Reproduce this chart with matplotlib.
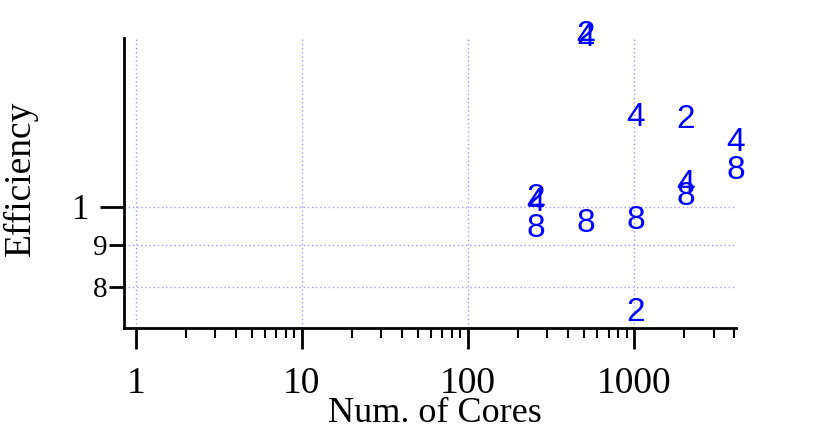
import matplotlib
matplotlib.use('Agg')
import matplotlib.pyplot as plt
from matplotlib import ticker
import numpy as np

cores = [256, 512, 1024, 2048, 4096]
eff_2 = [1.025, 1.61, 0.745, 1.274, np.nan]
eff_4 = [1.011, 1.60, 1.281, 1.063, 1.195]
eff_8 = [0.943, 0.956, 0.964, 1.028, 1.108]
series = {'2': eff_2, '4': eff_4, '8': eff_8}

y_major = [1.0]
y_minor = [0.8, 0.9]
y_minor_labels = ['8', '9']
xticks = [1, 10, 100, 1000]

fig = plt.figure(figsize=(8.22, 4.33), dpi=100)
ax = fig.add_axes([124/822, 105/433, 612/822, 290/433])

for lab, vals in series.items():
    for x, y in zip(cores, vals):
        if np.isnan(y):
            continue
        ax.text(x, y, lab, ha='center', va='center', color='#0000ff',
                fontsize=24, family='Liberation Sans', clip_on=False)

ax.set_xscale('log')
ax.set_yscale('log')
ax.set_xlim(0.85, 4096)
ax.set_ylim(0.714, 1.6)

# minor ticks only from 2 upward, none left of 1
x_minor = [m * d for d in xticks for m in range(2, 10) if m * d <= 4096]
ax.set_xticks(xticks)
ax.set_xticklabels([str(t) for t in xticks])
ax.xaxis.set_minor_locator(ticker.FixedLocator(x_minor))
ax.xaxis.set_minor_formatter(ticker.NullFormatter())

ax.yaxis.set_major_locator(ticker.FixedLocator(y_major))
ax.yaxis.set_major_formatter(ticker.FixedFormatter(['1']))
ax.yaxis.set_minor_locator(ticker.FixedLocator(y_minor))
ax.yaxis.set_minor_formatter(ticker.FixedFormatter(y_minor_labels))

for s in ['top', 'right']:
    ax.spines[s].set_visible(False)
for s in ['left', 'bottom']:
    ax.spines[s].set_linewidth(2)

ax.tick_params(axis='x', which='major', direction='out', length=15, width=2, pad=13,
               labelsize=27, labelfontfamily='Liberation Serif')
ax.tick_params(axis='x', which='minor', direction='out', length=7, width=1.5)
ax.tick_params(axis='y', which='major', direction='out', length=17, width=2, pad=8,
               labelsize=25, labelfontfamily='Liberation Serif')
ax.tick_params(axis='y', which='minor', direction='out', length=11, width=2, pad=1,
               labelsize=21, labelfontfamily='Liberation Serif')

ax.grid(True, axis='x', which='major', color='#9999ff', linestyle=(0, (1, 2)), linewidth=1)
ax.grid(True, axis='y', which='both', color='#9999ff', linestyle=(0, (1, 2)), linewidth=1)

ax.set_xlabel('Num. of Cores', family='Liberation Serif', fontsize=26)
ax.set_ylabel('Efficiency', family='Liberation Serif', fontsize=27)
ax.xaxis.set_label_coords((435 - 124) / 612, -(413 - 328) / 290)
ax.yaxis.set_label_coords(-(124 - 20) / 612, (328 - 178) / 290)
ax.xaxis.label.set_va('center')
ax.yaxis.label.set_va('center')

fig.savefig('out.png', dpi=100, facecolor='white')
